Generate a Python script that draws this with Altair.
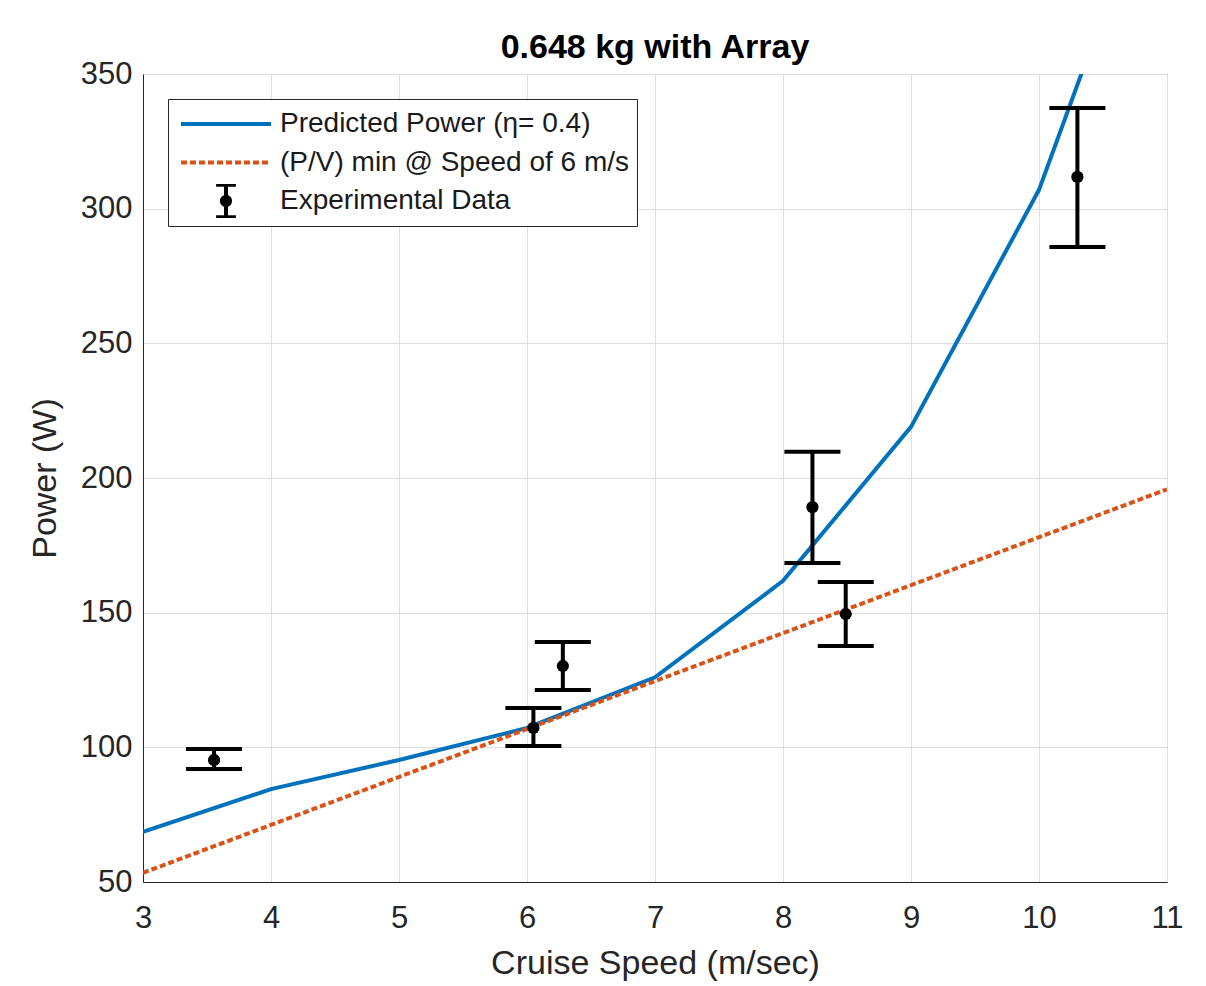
import altair as alt
import pandas as pd

# ---- data ----
speed = [3, 4, 5, 6, 7, 8, 9, 10, 11]
pred_power = [68.6, 84.5, 95.3, 107.2, 126.0, 161.8, 219.0, 307.0, 437.0]

pv_speed = [3, 11]
pv_power = [53.4, 195.8]

exp_speed = [3.555, 6.05, 6.28, 8.23, 8.49, 10.30]
exp_power = [95.3, 107.2, 130.2, 189.2, 149.5, 311.8]
exp_low = [92.0, 100.5, 121.3, 168.4, 137.6, 285.8]
exp_high = [99.4, 114.6, 139.1, 209.7, 161.4, 337.4]

series = ["Predicted Power (\u03b7= 0.4)", "(P/V) min @ Speed of 6 m/s", "Experimental Data"]
colors = ["#0072BD", "#D95319", "#000000"]

FONT = "Liberation Sans"
INK = "#262626"

pred_df = pd.DataFrame({"x": speed, "y": pred_power})
pv_df = pd.DataFrame({"x": pv_speed, "y": pv_power})
exp_df = pd.DataFrame({"x": exp_speed, "y": exp_power, "lo": exp_low, "hi": exp_high})
leg_df = pd.DataFrame({"series": series, "x": [None] * 3, "y": [None] * 3})

xs = alt.Scale(domain=[3, 11], nice=False, zero=False)
ys = alt.Scale(domain=[50, 350], nice=False, zero=False)

xaxis = alt.Axis(values=list(range(3, 12)), title="Cruise Speed (m/sec)", grid=True,
                 ticks=False, labelPadding=21, titlePadding=13, format="d",
                 labelFlush=False, labelOverlap=False)
yaxis = alt.Axis(values=list(range(50, 351, 50)), title="Power (W)", grid=True,
                 ticks=False, labelPadding=11, titlePadding=18, format="d",
                 labelFlush=False, labelOverlap=False)

X = alt.X("x:Q", scale=xs, axis=xaxis)
Y = alt.Y("y:Q", scale=ys, axis=yaxis)

LW = 4

pred_line = alt.Chart(pred_df).mark_line(color=colors[0], strokeWidth=LW, clip=True).encode(x=X, y=Y)
pv_line = alt.Chart(pv_df).mark_line(color=colors[1], strokeWidth=LW, strokeDash=[6, 3],
                                     strokeCap="butt", clip=True).encode(x=X, y=Y)

err_rule = alt.Chart(exp_df).mark_rule(color="black", strokeWidth=LW, opacity=1).encode(
    x=X, y=alt.Y("lo:Q", scale=ys, axis=yaxis), y2="hi:Q")
cap_lo = alt.Chart(exp_df).mark_tick(color="black", orient="horizontal", size=56,
                                     thickness=LW, opacity=1).encode(
    x=X, y=alt.Y("lo:Q", scale=ys, axis=yaxis))
cap_hi = alt.Chart(exp_df).mark_tick(color="black", orient="horizontal", size=56,
                                     thickness=LW, opacity=1).encode(
    x=X, y=alt.Y("hi:Q", scale=ys, axis=yaxis))
dots = alt.Chart(exp_df).mark_point(color="black", filled=True, size=150, opacity=1).encode(x=X, y=Y)

# legend-only layer (no drawn marks: null positions are filtered)
line_path = "M-1,0H1"
err_path = ("M-0.22,-0.36H0.22M0,-0.36V0.36M-0.22,0.36H0.22"
            "M0.09,0A0.09,0.09,0,1,1,-0.09,0A0.09,0.09,0,1,1,0.09,0Z")
leg = alt.Legend(title=None, orient="none", legendX=25, legendY=25, symbolSize=8100,
                 symbolStrokeWidth=LW, clipHeight=34, rowPadding=4.5, labelOffset=7,
                 padding=8, strokeColor=INK, fillColor="white", labelFontSize=28,
                 labelFont=FONT, labelColor="#1a1a1a", symbolOffset=3, labelLimit=600,
                 symbolOpacity=1)
legend_layer = alt.Chart(leg_df).mark_point(filled=False, strokeWidth=LW, opacity=1).encode(
    x=X, y=Y,
    color=alt.Color("series:N", scale=alt.Scale(domain=series, range=colors), legend=leg),
    fill=alt.Fill("series:N", scale=alt.Scale(domain=series, range=colors), legend=leg),
    shape=alt.Shape("series:N", scale=alt.Scale(domain=series, range=[line_path, line_path, err_path]), legend=leg),
    strokeDash=alt.StrokeDash("series:N", scale=alt.Scale(domain=series, range=[[1, 0], [6, 3], [1, 0]]), legend=leg),
)

chart = alt.layer(pred_line, pv_line, err_rule, cap_lo, cap_hi, dots, legend_layer).properties(
    width=1024, height=808,
    title=alt.TitleParams("0.648 kg with Array", fontSize=34, font=FONT, fontWeight="bold",
                          color="black", anchor="middle", offset=4, dy=11),
    autosize=alt.AutoSizeParams(type="none"),
    padding={"left": 135, "top": 66, "right": 30, "bottom": 100},
).configure_view(stroke=INK, strokeWidth=1).configure_axis(
    domainColor=INK, domainWidth=1, gridColor="#dfdfdf", gridWidth=1,
    labelFont=FONT, labelFontSize=31, labelColor=INK,
    titleFont=FONT, titleFontSize=34, titleFontWeight="normal", titleColor=INK,
)

chart.save("out.html", embed_options={"renderer": "svg", "actions": False})
